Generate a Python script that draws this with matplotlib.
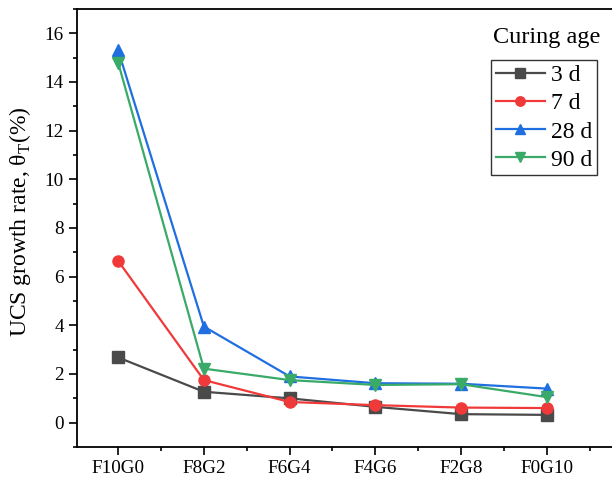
import matplotlib.pyplot as plt
from matplotlib.ticker import MultipleLocator

plt.rcParams['font.family'] = ['Liberation Serif', 'DejaVu Serif']
plt.rcParams['mathtext.fontset'] = 'custom'
plt.rcParams['mathtext.rm'] = 'Liberation Serif'

# Data
mixes = ['F10G0', 'F8G2', 'F6G4', 'F4G6', 'F2G8', 'F0G10']
ages = ['3 d', '7 d', '28 d', '90 d']
rate_3d = [2.68, 1.27, 1.0, 0.65, 0.35, 0.32]
rate_7d = [6.65, 1.75, 0.85, 0.72, 0.62, 0.60]
rate_28d = [15.3, 3.95, 1.90, 1.62, 1.60, 1.40]
rate_90d = [14.8, 2.22, 1.75, 1.55, 1.58, 1.05]

series = [rate_3d, rate_7d, rate_28d, rate_90d]
colors = ['#4a4a4a', '#f03a3a', '#1f6fe0', '#3aaa68']
markers = ['s', 'o', '^', 'v']

fig = plt.figure(figsize=(6.12, 4.79), dpi=100)
ax = fig.add_axes([77 / 612, 1 - 447 / 479, 1 - 77 / 612, (447 - 9) / 479])

x = list(range(len(mixes)))
for vals, c, m, lab in zip(series, colors, markers, ages):
    ax.plot(x, vals, color=c, marker=m, markersize=8, linewidth=1.6, label=lab)

ax.set_xlim(-0.48, 5.76)
ax.set_ylim(-1, 17)
ax.set_xticks(x)
ax.set_xticklabels(mixes)
ax.xaxis.set_minor_locator(MultipleLocator(0.5))
ax.yaxis.set_major_locator(MultipleLocator(2))
ax.yaxis.set_minor_locator(MultipleLocator(1))
ax.tick_params(which='both', direction='out', labelsize=13.8, width=1.2)
ax.tick_params(which='major', length=6)
ax.tick_params(which='minor', length=3)
ax.spines['right'].set_visible(False)
for s in ['left', 'bottom', 'top']:
    ax.spines[s].set_linewidth(1.3)

ax.set_ylabel('UCS growth rate, θ$_\\mathrm{T}$(%)', fontsize=17)
ax.yaxis.set_label_coords(-0.083, 0.514)

leg = ax.legend(loc='upper right', bbox_to_anchor=(0.972, 0.8836), borderaxespad=0,
                fontsize=17, frameon=True, fancybox=False, edgecolor='black',
                handlelength=2.1, borderpad=0.2, labelspacing=0.28,
                handletextpad=0.25, markerscale=0.85)
leg.get_frame().set_linewidth(1.0)
fig.text(547 / 612, 1 - 38 / 479, 'Curing age', ha='center', va='center', fontsize=17.5)

fig.savefig('out.png', dpi=100)
